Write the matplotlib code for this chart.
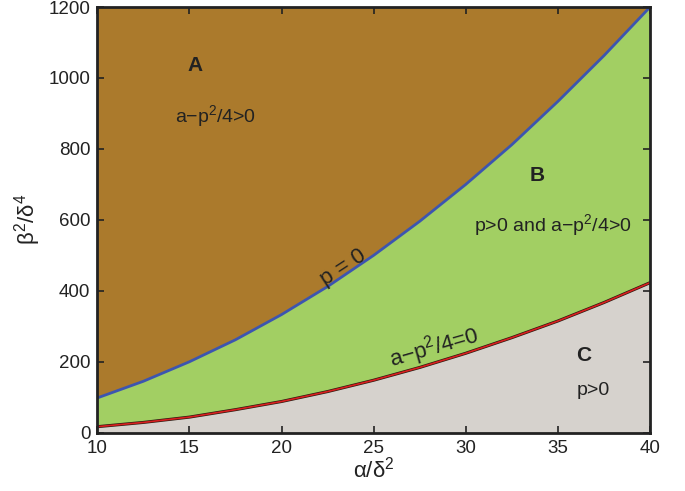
import matplotlib
matplotlib.use("Agg")
import matplotlib.pyplot as plt

plt.rcParams['font.family'] = ['Liberation Sans', 'DejaVu Sans']
plt.rcParams['mathtext.fontset'] = 'custom'
plt.rcParams['mathtext.rm'] = 'Liberation Sans'
plt.rcParams['mathtext.it'] = 'Liberation Sans'
plt.rcParams['mathtext.bf'] = 'Liberation Sans:bold'

alpha = [10, 12.5, 15, 17.5, 20, 22.5, 25, 27.5, 30, 32.5, 35, 37.5, 40]
p_zero = [98, 145, 200, 262, 333, 412, 500, 596, 700, 812, 934, 1063, 1200]
disc_zero = [17, 29, 44, 65, 88, 116, 148, 184, 224, 268, 315, 367, 423]
xticks = [10, 15, 20, 25, 30, 35, 40]
yticks = [0, 200, 400, 600, 800, 1000, 1200]

fig = plt.figure(figsize=(6.85, 4.91), dpi=100)
ax = fig.add_axes([0.142, 0.1187, 0.807, 0.867])

brown = '#AB7A2C'
green = '#A2CF63'
gray = '#D6D2CD'

ax.fill_between(alpha, p_zero, 1200, color=brown, lw=0)
ax.fill_between(alpha, disc_zero, p_zero, color=green, lw=0)
ax.fill_between(alpha, 0, disc_zero, color=gray, lw=0)
ax.plot(alpha, p_zero, color='#3C55B0', lw=2)
ax.plot(alpha, disc_zero, color='#2a1a10', lw=2.2)
ax.plot(alpha, disc_zero, color='#D92020', lw=1.2)

ax.set_xlim(10, 40)
ax.set_ylim(0, 1200)
ax.set_xticks(xticks)
ax.set_yticks(yticks)
ax.tick_params(direction='in', length=5, width=1.2, top=True, right=True,
               labelsize=13.5, colors='#222222', pad=5)
for s in ax.spines.values():
    s.set_linewidth(2)
    s.set_color('#222222')

ax.set_xlabel(r'$\mathregular{\alpha/\delta^2}$', fontsize=16, labelpad=0, color='#222222')
ax.set_ylabel(r'$\mathregular{\beta^2/\delta^4}$', fontsize=16, labelpad=4, color='#222222')

tc = '#222222'
ax.text(15.3, 1036, 'A', fontsize=15, fontweight='bold', ha='center', va='center', color=tc)
ax.text(16.4, 893, r'a$\mathregular{-}$p$\mathregular{^2}$/4>0', fontsize=14, ha='center', va='center', color=tc)
ax.text(33.9, 725, 'B', fontsize=15, fontweight='bold', ha='center', va='center', color=tc)
ax.text(34.7, 584, r'p>0 and a$\mathregular{-}$p$\mathregular{^2}$/4>0', fontsize=14, ha='center', va='center', color=tc)
ax.text(36.4, 218, 'C', fontsize=15, fontweight='bold', ha='center', va='center', color=tc)
ax.text(36.9, 118, 'p>0', fontsize=14, ha='center', va='center', color=tc)
ax.text(23.35, 466, 'p = 0', fontsize=16, ha='center', va='center', rotation=33, color=tc)
ax.text(28.3, 240, r'a$\mathregular{-}$p$\mathregular{^2}$/4=0', fontsize=16, ha='center', va='center', rotation=16, color=tc)

fig.savefig('out.png', dpi=100)
